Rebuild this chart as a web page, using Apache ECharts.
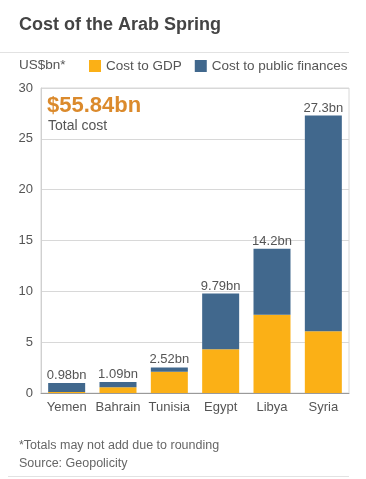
<!DOCTYPE html>
<html>
<head>
<meta charset="utf-8">
<script src="https://cdn.jsdelivr.net/npm/echarts@6/dist/echarts.min.js"></script>
<style>
html,body{margin:0;padding:0;background:#fff;}
#c{width:366px;height:479px;}
</style>
</head>
<body>
<div id="c"></div>
<script>
var categories = ['Yemen', 'Bahrain', 'Tunisia', 'Egypt', 'Libya', 'Syria'];
var costGDP = [0.1, 0.56, 2.1, 4.3, 7.7, 6.07];
var costPublic = [0.88, 0.53, 0.42, 5.49, 6.5, 21.23];
var totalLabels = ['0.98bn', '1.09bn', '2.52bn', '9.79bn', '14.2bn', '27.3bn'];
var yTicks = [0, 5, 10, 15, 20, 25, 30];

var font = 'Liberation Sans, Arial, Helvetica, sans-serif';
var chart = echarts.init(document.getElementById('c'), null, {renderer: 'canvas'});
chart.setOption({
  animation: false,
  textStyle: {fontFamily: font},
  grid: {left: 41, right: 17, top: 88, bottom: 86, show: true, borderColor: '#d8d8d8', borderWidth: 1},
  legend: {
    left: 89, top: 59, padding: 0, itemWidth: 12, itemHeight: 12, itemGap: 13,
    icon: 'rect',
    textStyle: {color: '#555', fontSize: 13.5, fontFamily: font},
    data: ['Cost to GDP', 'Cost to public finances']
  },
  xAxis: {
    type: 'category', data: categories,
    axisTick: {show: false},
    axisLine: {lineStyle: {color: '#9a9a9a', width: 1}},
    axisLabel: {color: '#555', fontSize: 13, margin: 8, interval: 0, fontFamily: font}
  },
  yAxis: {
    type: 'value', min: yTicks[0], max: yTicks[yTicks.length - 1], interval: 5,
    axisLine: {show: true, lineStyle: {color: '#d0d0d0'}},
    axisTick: {show: false},
    axisLabel: {color: '#555', fontSize: 13, margin: 8, fontFamily: font},
    splitLine: {lineStyle: {color: '#d8d8d8'}}
  },
  series: [
    {name: 'Cost to GDP', type: 'bar', stack: 't', data: costGDP, barWidth: 37,
      itemStyle: {color: '#fbb016'}},
    {name: 'Cost to public finances', type: 'bar', stack: 't', data: costPublic, barWidth: 37,
      itemStyle: {color: '#41688d'},
      label: {show: true, position: 'top', distance: 1, color: '#555', fontSize: 13, fontFamily: font,
        formatter: function (p) { return totalLabels[p.dataIndex]; }}}
  ],
  graphic: [
    {type: 'text', left: 19, top: 16, style: {text: 'Cost of the Arab Spring', fill: '#444', font: 'bold 18px ' + font}},
    {type: 'line', shape: {x1: 0, y1: 52.5, x2: 349, y2: 52.5}, style: {stroke: '#e2e2e2', lineWidth: 1}},
    {type: 'text', left: 19, top: 58, style: {text: 'US$bn*', fill: '#555', font: '13.5px ' + font}},
    {type: 'text', left: 47, top: 95, style: {text: '$55.84bn', fill: '#db8a2c', font: 'bold 22px ' + font}},
    {type: 'text', left: 48, top: 119, style: {text: 'Total cost', fill: '#555', font: '14px ' + font}},
    {type: 'text', left: 19, top: 439, style: {text: '*Totals may not add due to rounding', fill: '#666', font: '12.5px ' + font}},
    {type: 'text', left: 19, top: 457, style: {text: 'Source: Geopolicity', fill: '#666', font: '12.5px ' + font}},
    {type: 'line', shape: {x1: 8, y1: 476.5, x2: 349, y2: 476.5}, style: {stroke: '#e2e2e2', lineWidth: 1}}
  ]
});
</script>
</body>
</html>
